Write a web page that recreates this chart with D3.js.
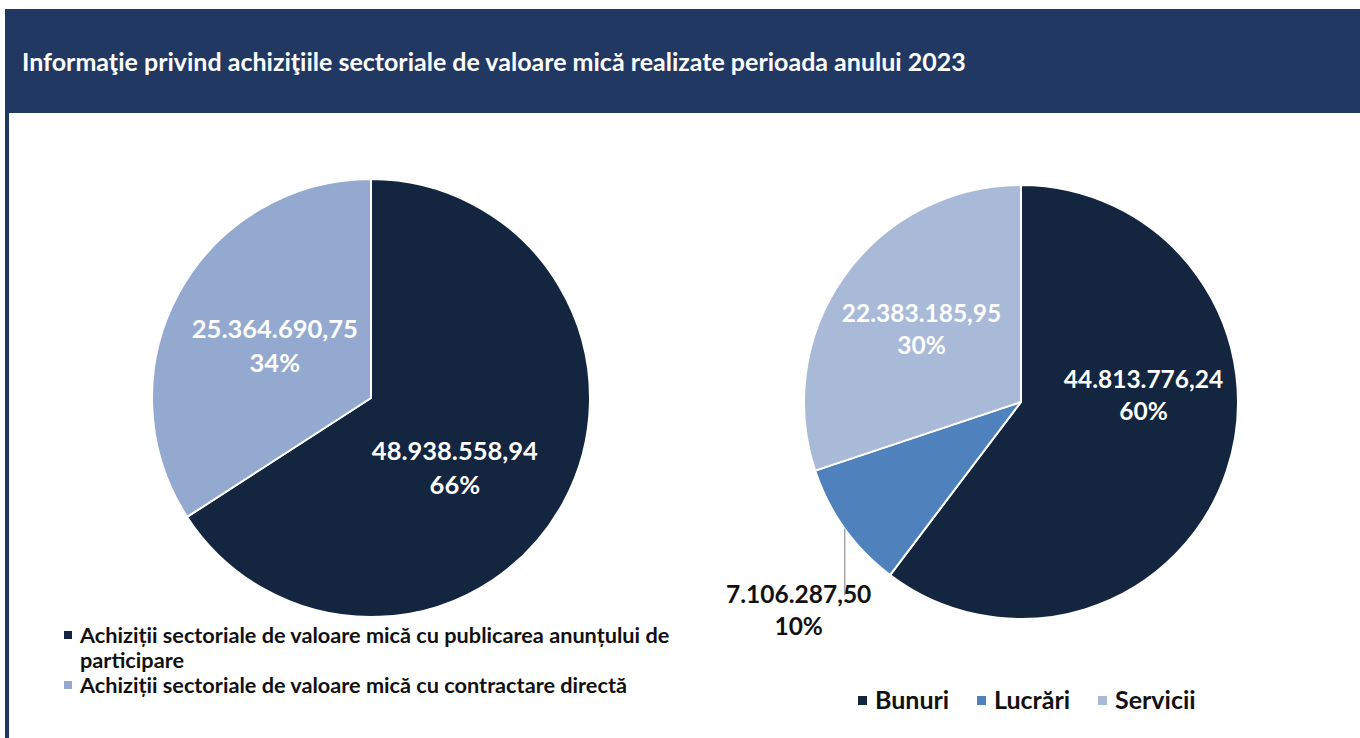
<!DOCTYPE html>
<html>
<head>
<meta charset="utf-8">
<script src="https://cdn.jsdelivr.net/npm/d3@7"></script>
<style>
  html, body { margin: 0; padding: 0; background: #fff; }
  svg { display: block; font-family: Lato, "Open Sans", sans-serif; }
</style>
</head>
<body>
<svg id="chart" width="1360" height="738"></svg>
<script>
// ─── DONNÉES ────────────────────────────────────────────────────────────────
const titleText = "Informaţie privind achiziţiile sectoriale de valoare mică realizate perioada anului 2023";

const leftCategories = [
    "Achiziții sectoriale de valoare mică cu publicarea anunțului de participare",
    "Achiziții sectoriale de valoare mică cu contractare directă"
];
const leftValues  = [48938558.94, 25364690.75];
const leftLabels  = ["48.938.558,94", "25.364.690,75"];
const leftPercent = ["66%", "34%"];

const rightCategories = ["Bunuri", "Lucrări", "Servicii"];
const rightValues  = [44813776.24, 7106287.50, 22383185.95];
const rightLabels  = ["44.813.776,24", "7.106.287,50", "22.383.185,95"];
const rightPercent = ["60%", "10%", "30%"];

// ─── COULEURS ───────────────────────────────────────────────────────────────
const leftColors  = ["#13253f", "#93a9d0"];
const rightColors = ["#13253f", "#4f81bd", "#a9bad8"];

const svg = d3.select("#chart");

// ─── BANDEAU DU TITRE ───────────────────────────────────────────────────────
svg.append("rect")
    .attr("x", 5).attr("y", 9)
    .attr("width", 1355).attr("height", 104)
    .attr("fill", "#213863");
svg.append("rect")
    .attr("x", 5).attr("y", 113)
    .attr("width", 4).attr("height", 625)
    .attr("fill", "#213863");
svg.append("text")
    .attr("x", 22).attr("y", 71)
    .attr("fill", "#fff")
    .style("font-size", "25px").style("font-weight", "700")
    .text(titleText);

// ─── CAMEMBERT ──────────────────────────────────────────────────────────────
function drawPie(opts) {
    const g = svg.append("g").attr("transform", `translate(${opts.cx},${opts.cy})`);
    const pie = d3.pie().sort(null).value(d => d.value);
    const arcs = pie(opts.rows);
    const arc = d3.arc().innerRadius(0).outerRadius(opts.r);

    g.selectAll("path")
        .data(arcs)
        .enter().append("path")
        .attr("d", arc)
        .attr("fill", d => d.data.color)
        .attr("stroke", "#fff")
        .attr("stroke-width", 2)
        .attr("stroke-linejoin", "round");

    arcs.forEach(d => {
        const shift = (opts.angleShift && opts.angleShift[d.data.name]) || 0;
        const a = (d.startAngle + d.endAngle) / 2 + shift;
        let x, y, fill = "#fff";
        if (opts.outside && opts.outside.includes(d.data.name)) {
            // étiquette extérieure avec ligne de rappel verticale
            const ox = Math.sin(a) * opts.r, oy = -Math.cos(a) * opts.r;
            g.append("line")
                .attr("x1", ox).attr("y1", oy)
                .attr("x2", ox).attr("y2", oy + 67)
                .attr("stroke", "#a6a6a6").attr("stroke-width", 1.5);
            x = ox - 46; y = oy + 74 + 8;
            fill = "#111";
        } else {
            const k = opts.labelRadius * opts.r;
            x = Math.sin(a) * k; y = -Math.cos(a) * k;
        }
        const t = g.append("text")
            .attr("text-anchor", "middle")
            .attr("fill", fill)
            .style("font-size", opts.fontSize + "px").style("font-weight", "700");
        t.append("tspan").attr("x", x).attr("y", y - 8).text(d.data.label);
        t.append("tspan").attr("x", x).attr("y", y - 8 + opts.lineGap).text(d.data.pct);
    });
}

drawPie({
    cx: 371, cy: 398, r: 219, labelRadius: 0.5, fontSize: 25.5, lineGap: 34,
    angleShift: { [leftCategories[0]]: 0.2 },
    rows: leftCategories.map((c, i) => ({
        name: c, value: leftValues[i], label: leftLabels[i], pct: leftPercent[i], color: leftColors[i]
    }))
});

drawPie({
    cx: 1021, cy: 402, r: 217, labelRadius: 0.565, fontSize: 24.5, lineGap: 32,
    angleShift: { "Bunuri": -0.37 },
    outside: ["Lucrări"],
    rows: rightCategories.map((c, i) => ({
        name: c, value: rightValues[i], label: rightLabels[i], pct: rightPercent[i], color: rightColors[i]
    }))
});

// ─── LÉGENDE GAUCHE ─────────────────────────────────────────────────────────
const leftLegendLines = [
    { text: "Achiziții sectoriale de valoare mică cu publicarea anunțului de", color: leftColors[0] },
    { text: "participare", color: null },
    { text: leftCategories[1], color: leftColors[1] }
];
const lg = svg.append("g").attr("transform", "translate(64,643)");
leftLegendLines.forEach((l, i) => {
    if (l.color) {
        lg.append("rect")
            .attr("x", 0).attr("y", i * 25 - 12)
            .attr("width", 8).attr("height", 8)
            .attr("fill", l.color);
    }
    lg.append("text")
        .attr("x", 16).attr("y", i * 25)
        .attr("fill", "#111")
        .style("font-size", "21.7px").style("font-weight", "700")
        .text(l.text);
});

// ─── LÉGENDE DROITE ─────────────────────────────────────────────────────────
const legendX = [858, 977, 1098];
const rg = svg.append("g").attr("transform", "translate(0,709)");
rightCategories.forEach((c, i) => {
    rg.append("rect")
        .attr("x", legendX[i]).attr("y", -13)
        .attr("width", 9).attr("height", 9)
        .attr("fill", rightColors[i]);
    rg.append("text")
        .attr("x", legendX[i] + 17).attr("y", 0)
        .attr("fill", "#111")
        .style("font-size", "25px").style("font-weight", "700")
        .text(c);
});
</script>
</body>
</html>
